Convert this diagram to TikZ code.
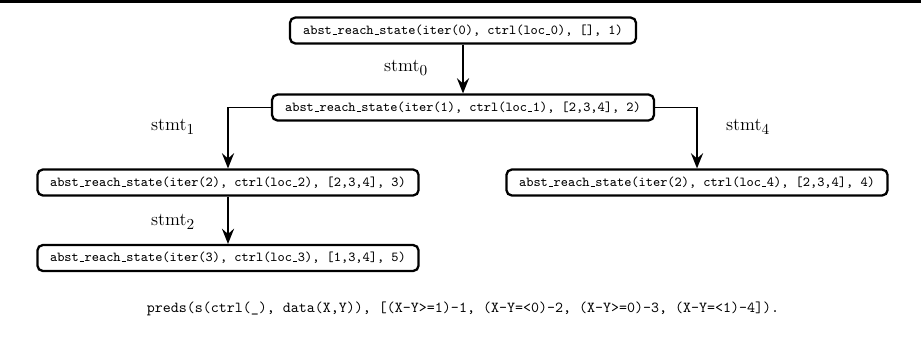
\documentclass[tikz,border=0pt]{standalone}
\usepackage{tikz}
\usetikzlibrary{arrows.meta}

% short text underscore
\newcommand{\usc}{\kern.06em\vbox{\hrule width.3em}\kern.06em}
% transition label
\newcommand{\stmtlab}[1]{$\mathrm{stmt}_{\mbox{\normalsize #1}}$}

\tikzset{
  state/.style={draw, line width=1.5pt, rounded corners=3.5pt, minimum height=17pt,
    inner sep=2pt, font=\small\ttfamily},
  trans/.style={line width=1.2pt, -{Stealth[length=10pt, width=8pt, inset=3.5pt]}},
  lab/.style={font=\large},
}

\begin{document}
\begin{tikzpicture}[x=0.656pt, y=-0.656pt]
\useasboundingbox (0,0) rectangle (921,342);
% Top rule
\fill (0,0) rectangle (921,3);
% States
\node[state, minimum width=227pt] (s0) at (463,30.5) {abst\usc reach\usc state(iter(0), ctrl(loc\usc 0), [], 1)};
\node[state, minimum width=250.5pt] (s1) at (463,107.5) {abst\usc reach\usc state(iter(1), ctrl(loc\usc 1), [2,3,4], 2)};
\node[state, minimum width=250pt] (s2) at (228,182.5) {abst\usc reach\usc state(iter(2), ctrl(loc\usc 2), [2,3,4], 3)};
\node[state, minimum width=250pt] (s3) at (228,258) {abst\usc reach\usc state(iter(3), ctrl(loc\usc 3), [1,3,4], 5)};
\node[state, minimum width=250pt] (s4) at (697,182.5) {abst\usc reach\usc state(iter(2), ctrl(loc\usc 4), [2,3,4], 4)};
% Transitions
\draw[trans] (s0) -- (s1);
\draw[trans] (s1.west) -| (s2.north);
\draw[trans] (s1.east) -| (s4.north);
\draw[trans] (s2) -- (s3);
% Labels
\node[lab] (l0) at (406,68) {\stmtlab{0}};
\node[lab] (l1) at (173,127) {\stmtlab{1}};
\node[lab] (l2) at (173,222) {\stmtlab{2}};
\node[lab] (l4) at (748,127) {\stmtlab{4}};
% Predicates
\node[font=\ttfamily] (preds) at (463,309) {preds(s(ctrl(\_), data(X,Y)), [(X-Y>=1)-1, (X-Y=<0)-2, (X-Y>=0)-3, (X-Y=<1)-4]).};
\end{tikzpicture}
\end{document}
